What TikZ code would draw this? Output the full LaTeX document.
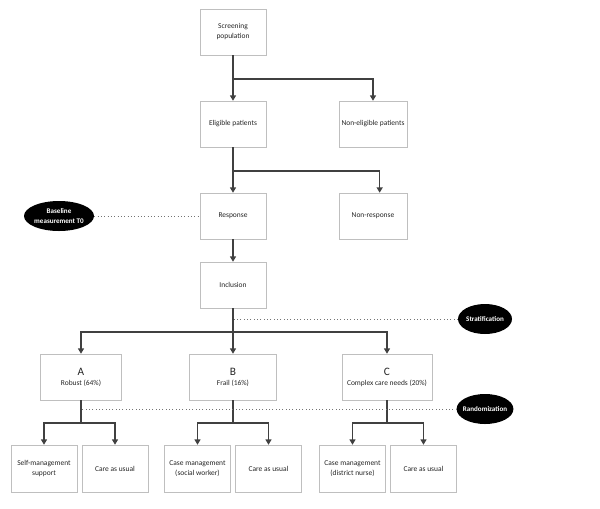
\documentclass[tikz,border=0pt]{standalone}
\usepackage{fontspec}
\setmainfont{Carlito}
\usepackage{tikz}
\usetikzlibrary{arrows.meta,shapes.geometric,shadows}

\tikzset{
  box/.style={draw=black!25, fill=white, text=black!85, align=center,
    minimum width=49.5pt, minimum height=34.5pt, inner sep=1pt,
    font=\fontsize{5.6}{7.5}\selectfont,
    drop shadow={shadow xshift=0.7pt, shadow yshift=-0.7pt, opacity=0.25}},
  tag/.style={ellipse, fill=black, text=white, align=center, inner sep=0pt,
    inner xsep=-1.5pt, minimum height=22.5pt,
    font=\bfseries\fontsize{5.3}{7}\selectfont},
  arr/.style={-{Triangle[length=4pt,width=4.5pt]}, draw=black!75, line width=0.9pt},
  link/.style={draw=black!75, line width=0.9pt},
  guide/.style={draw=black!55, dotted, line width=0.5pt},
  bigletter/.style={font=\fontsize{8.5}{10}\selectfont}
}
\newcommand{\grp}[1]{{\fontsize{8.5}{10}\selectfont #1}}

\begin{document}
\begin{tikzpicture}[x=0.75pt, y=-0.75pt]
  \useasboundingbox (0,0) rectangle (600,508);

  \node[box] (screen) at (233,32) {Screening\\population};
  \node[box] (eligible) at (233,124) {Eligible patients};
  \node[box, minimum width=51pt] (noneligible) at (373,124) {Non-eligible patients};
  \node[box] (response) at (233,216) {Response};
  \node[box, minimum width=51pt] (nonresponse) at (373,216) {Non-response};
  \node[box] (inclusion) at (233,285) {Inclusion};

  \node[box, minimum width=60.75pt] (groupA) at (81,377) {\grp{A}\\Robust (64\%)};
  \node[box, minimum width=65.25pt] (groupB) at (233,377) {\grp{B}\\Frail (16\%)};
  \node[box, minimum width=67.5pt] (groupC) at (387,377) {\grp{C}\\Complex care needs (20\%)};

  \node[box, minimum height=35.25pt] (selfmgmt) at (44,468.5) {Self-management\\support};
  \node[box, minimum height=35.25pt] (usualA) at (115,468.5) {Care as usual};
  \node[box, minimum height=35.25pt] (casesocial) at (197.5,468.5) {Case management\\(social worker)};
  \node[box, minimum height=35.25pt] (usualB) at (268.5,468.5) {Care as usual};
  \node[box, minimum height=35.25pt] (casenurse) at (352.5,468.5) {Case management\\(district nurse)};
  \node[box, minimum height=35.25pt] (usualC) at (423.5,468.5) {Care as usual};

  \node[tag, minimum width=52.5pt] (baseline) at (59,216) {Baseline\\measurement T0};
  \node[tag, minimum width=40.5pt] (strat) at (485,319) {Stratification};
  \node[tag, minimum width=38.5pt] (random) at (485,409) {Randomization};

  \coordinate (split1) at (233,79);
  \coordinate (split2) at (233,171);
  \coordinate (split3) at (233,332);
  \coordinate (splitA) at (81,423);
  \coordinate (splitB) at (233,423);
  \coordinate (splitC) at (387,423);
  \coordinate (stratpt) at (233,319);
  \coordinate (randpt) at (81,409);

  \draw[arr] (screen) -- (eligible);
  \draw[arr] (split1) -| (noneligible);
  \draw[arr] (eligible) -- (response);
  \draw[arr] (split2) -| ([xshift=5pt]nonresponse.north);
  \draw[arr] (response) -- (inclusion);

  \draw[link] (inclusion) -- (split3);
  \draw[arr] (split3) -| (groupA);
  \draw[arr] (split3) -- (groupB);
  \draw[arr] (split3) -| (groupC);

  \draw[link] (groupA) -- (splitA);
  \draw[arr] (splitA) -| (selfmgmt);
  \draw[arr] (splitA) -| (usualA);
  \draw[link] (groupB) -- (splitB);
  \draw[arr] (splitB) -| (casesocial);
  \draw[arr] (splitB) -| (usualB);
  \draw[link] (groupC) -- (splitC);
  \draw[arr] (splitC) -| (casenurse);
  \draw[arr] (splitC) -| (usualC);

  \draw[guide] (baseline) -- (response);
  \draw[guide] (strat) -- (stratpt);
  \draw[guide] (random) -- (randpt);
\end{tikzpicture}
\end{document}
